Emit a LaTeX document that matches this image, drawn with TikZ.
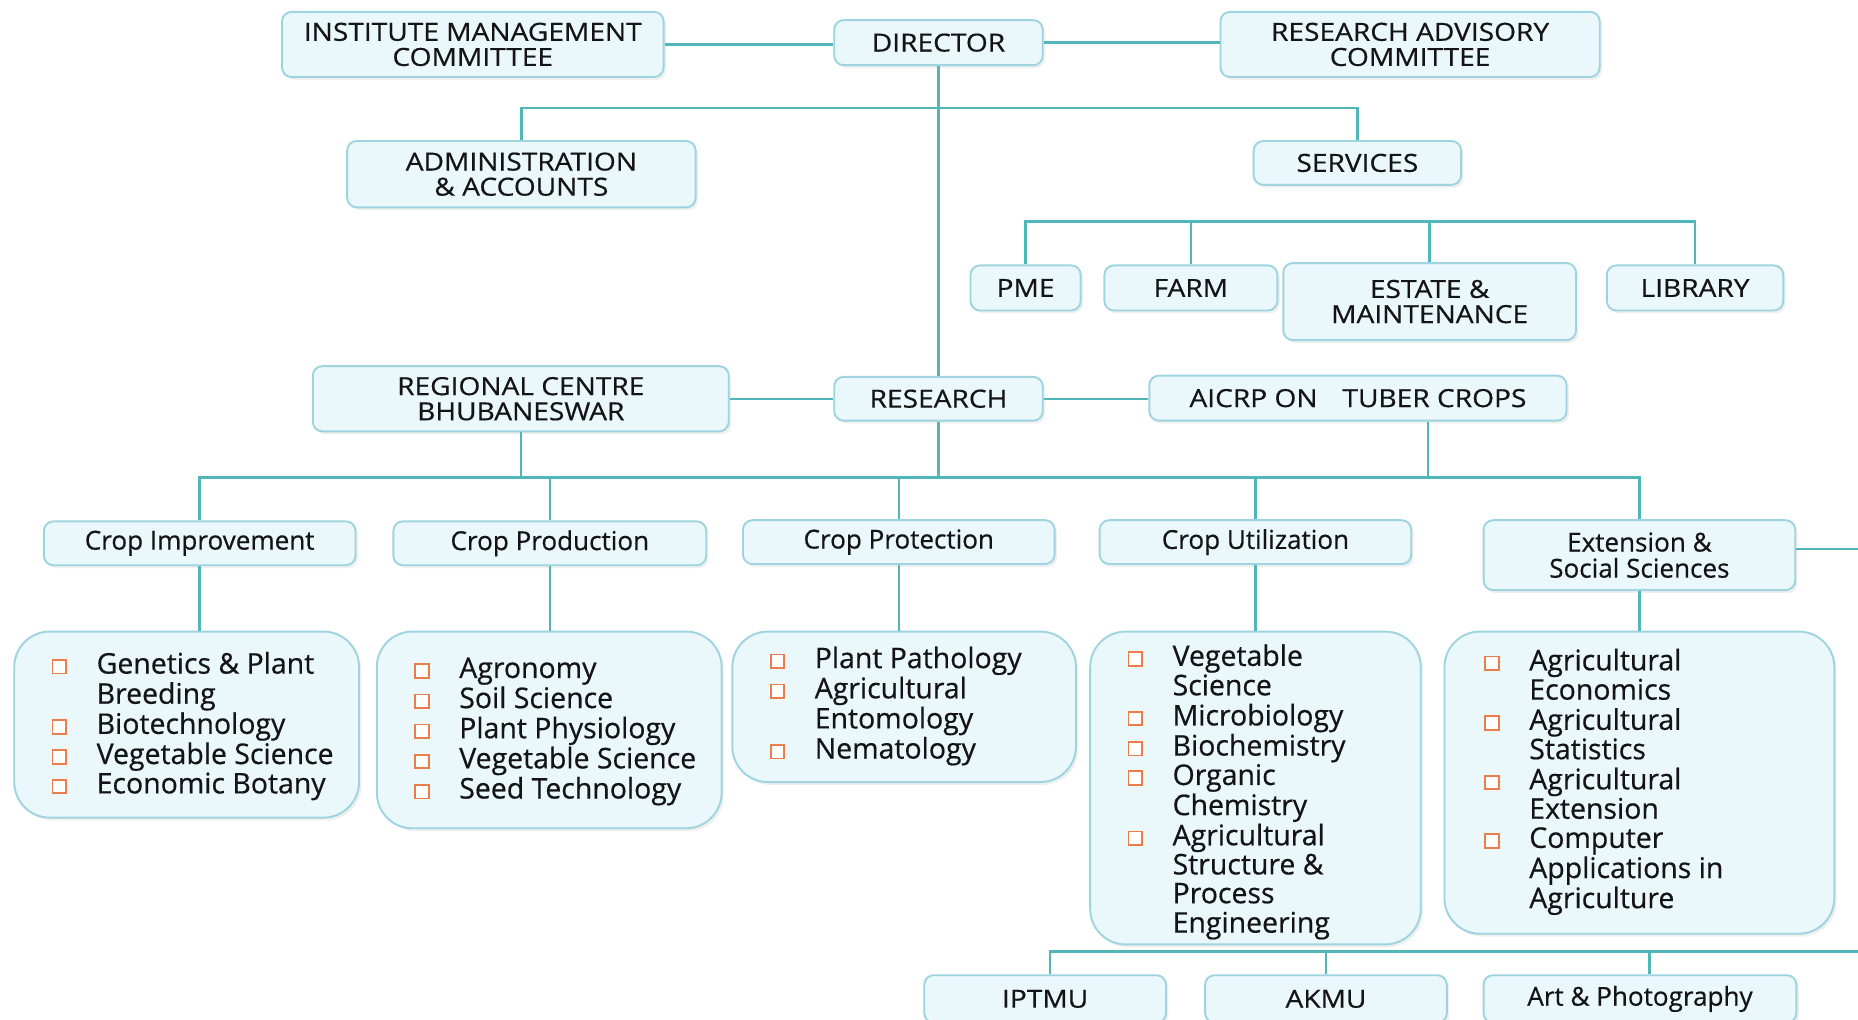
\documentclass[tikz,border=0pt]{standalone}
\usepackage{fontspec}
\setmainfont{Open Sans}[FakeBold=0.5]
\newfontfamily\capsfont{Open Sans}[FakeBold=0.5, FakeStretch=1.13]
\usetikzlibrary{shadows}
\definecolor{lnc}{RGB}{80,182,184}
\definecolor{bfill}{RGB}{234,247,251}
\definecolor{bdraw}{RGB}{158,212,224}
\definecolor{bulc}{RGB}{235,125,75}
\definecolor{txt}{RGB}{20,20,20}
\newcommand\bulsq{\makebox[19pt][l]{\raisebox{0.4pt}{\fboxsep=0pt\fboxrule=0.75pt\fcolorbox{bulc}{white}{\rule{0pt}{5pt}\hspace{5pt}}}}}
\begin{document}
\begin{tikzpicture}[x=0.5pt,y=-0.5pt,
 box/.style={draw=bdraw, fill=bfill, line width=0.8pt, rounded corners=4pt, align=center, text=txt,
   font=\fontsize{11}{11}\selectfont, inner sep=0pt,
   drop shadow={opacity=0.12,shadow xshift=1pt,shadow yshift=-1.2pt}},
 caps/.style={font=\capsfont\fontsize{10.5}{10.6}\selectfont},
 sz/.style 2 args={minimum width=#1*0.5pt, minimum height=#2*0.5pt},
 lbox/.style={box, rounded corners=15pt},
 ltxt/.style={anchor=west, inner sep=0pt, text=txt, font=\fontsize{12}{12}\selectfont},
 conn/.style={draw=lnc, line width=1pt}]
\useasboundingbox (0,0) rectangle (1568,860);
\clip (0,0) rectangle (1568,860);
\fill[white] (0,0) rectangle (1568,860);

% top row
\node[box, caps, sz={322}{55}] (imc) at (399,37.5) {INSTITUTE MANAGEMENT\\COMMITTEE};
\node[box, caps, sz={176}{38}] (dir) at (792,36) {DIRECTOR};
\node[box, caps, sz={320}{55}] (rac) at (1190,37.5) {RESEARCH ADVISORY\\COMMITTEE};
\node[box, caps, sz={294}{56}] (adm) at (440,147) {ADMINISTRATION\\\& ACCOUNTS};
\node[box, caps, sz={175}{37}] (serv) at (1145.5,137.5) {SERVICES};
% services units
\node[box, caps, sz={93}{38}] (pme) at (865.5,243) {PME};
\node[box, caps, sz={146}{38}] (farm) at (1005,243) {FARM};
\node[box, caps, sz={247}{65}] (est) at (1206.5,254.5) {ESTATE \&\\MAINTENANCE};
\node[box, caps, sz={149}{38}] (lib) at (1430.5,243) {LIBRARY};
% research row
\node[box, caps, sz={351}{55}] (rc) at (439.5,336.5) {REGIONAL CENTRE\\BHUBANESWAR};
\node[box, caps, sz={176}{37}] (res) at (792,336.5) {RESEARCH};
\node[box, caps, sz={352}{38}] (aicrp) at (1146,336) {AICRP ON\quad TUBER CROPS};
% divisions
\node[box, sz={263}{37}] (ci) at (168.5,458.5) {Crop Improvement};
\node[box, sz={264}{37}] (cpd) at (464,458.5) {Crop Production};
\node[box, sz={263}{37}] (cpt) at (758.5,457.5) {Crop Protection};
\node[box, sz={263}{37}] (cu) at (1059.5,457.5) {Crop Utilization};
\node[box, sz={263}{59}] (ext) at (1383.5,468.5) {Extension \&\\Social Sciences};
% lists
\node[lbox, sz={291}{157}] (l1) at (157.5,611.5) {};
\node[lbox, sz={291}{166}] (l2) at (463.5,616) {};
\node[lbox, sz={290}{127}] (l3) at (763,596.5) {};
\node[lbox, sz={279}{264}] (l4) at (1059.5,665) {};
\node[lbox, sz={329}{255}] (l5) at (1383.5,660.5) {};
\node[ltxt] (t1) at ([xshift=16pt,yshift=-1pt]l1.west) {\begin{tabular}{@{}l@{}l@{}}
\bulsq & Genetics \& Plant\\ & Breeding\\ \bulsq & Biotechnology\\ \bulsq & Vegetable Science\\ \bulsq & Economic Botany\end{tabular}};
\node[ltxt] (t2) at ([xshift=16pt,yshift=-1pt]l2.west) {\begin{tabular}{@{}l@{}l@{}}
\bulsq & Agronomy\\ \bulsq & Soil Science\\ \bulsq & Plant Physiology\\ \bulsq & Vegetable Science\\ \bulsq & Seed Technology\end{tabular}};
\node[ltxt] (t3) at ([xshift=16pt]l3.west) {\begin{tabular}{@{}l@{}l@{}}
\bulsq & Plant Pathology\\ \bulsq & Agricultural\\ & Entomology\\ \bulsq & Nematology\end{tabular}};
\node[ltxt] (t4) at ([xshift=16pt,yshift=-2pt]l4.west) {\begin{tabular}{@{}l@{}l@{}}
\bulsq & Vegetable\\ & Science\\ \bulsq & Microbiology\\ \bulsq & Biochemistry\\ \bulsq & Organic\\ & Chemistry\\ \bulsq & Agricultural\\ & Structure \&\\ & Process\\ & Engineering\end{tabular}};
\node[ltxt] (t5) at ([xshift=17pt]l5.west) {\begin{tabular}{@{}l@{}l@{}}
\bulsq & Agricultural\\ & Economics\\ \bulsq & Agricultural\\ & Statistics\\ \bulsq & Agricultural\\ & Extension\\ \bulsq & Computer\\ & Applications in\\ & Agriculture\end{tabular}};
% bottom units
\node[box, caps, sz={204}{40}] (ipt) at (882,843) {IPTMU};
\node[box, caps, sz={204}{40}] (akmu) at (1119,843) {AKMU};
\node[box, sz={264}{40}] (art) at (1384,843) {Art \& Photography};

% coordinates for buses and free ends
\coordinate (bus1) at (0,91);
\coordinate (bus2) at (0,187);
\coordinate (bus3) at (0,403);
\coordinate (bus4) at (0,803);
\coordinate (edgeR) at (1570,0);

% connectors
\draw[conn] (imc.east) -- (imc.east -| dir.west);
\draw[conn] (dir.east) -- (dir.east -| rac.west);
\draw[conn] (dir.south) -- (res.north);
\draw[conn] (adm.north) -- (adm.north |- bus1) -- (serv.north |- bus1) -- (serv.north);
\draw[conn] (pme.north) -- (pme.north |- bus2) -- (lib.north |- bus2) -- (lib.north);
\draw[conn] (farm.north) -- (farm.north |- bus2);
\draw[conn] (est.north) -- (est.north |- bus2);
\draw[conn] (rc.east) -- (rc.east -| res.west);
\draw[conn] (res.east) -- (res.east -| aicrp.west);
\draw[conn] (ci.north) -- (ci.north |- bus3) -- (ext.north |- bus3) -- (ext.north);
\draw[conn] (rc.south) -- (rc.south |- bus3);
\draw[conn] (res.south) -- (res.south |- bus3);
\draw[conn] ([xshift=29.5pt]aicrp.south) -- ([xshift=29.5pt]aicrp.south |- bus3);
\draw[conn] (cpd.north) -- (cpd.north |- bus3);
\draw[conn] (cpt.north) -- (cpt.north |- bus3);
\draw[conn] (cu.north) -- (cu.north |- bus3);
\draw[conn] (ci.south) -- (ci.south |- l1.north);
\draw[conn] (cpd.south) -- (cpd.south |- l2.north);
\draw[conn] (cpt.south) -- (cpt.south |- l3.north);
\draw[conn] (cu.south) -- (cu.south |- l4.north);
\draw[conn] (ext.south) -- (ext.south |- l5.north);
\draw[conn] ([yshift=2.7pt]ext.east) -- ([yshift=2.7pt]ext.east -| edgeR);
\draw[conn] ([xshift=2pt]ipt.north) -- ([xshift=2pt]ipt.north |- bus4) -- (bus4 -| edgeR);
\draw[conn] (akmu.north) -- (akmu.north |- bus4);
\draw[conn] ([xshift=4pt]art.north) -- ([xshift=4pt]art.north |- bus4);
\end{tikzpicture}
\end{document}
